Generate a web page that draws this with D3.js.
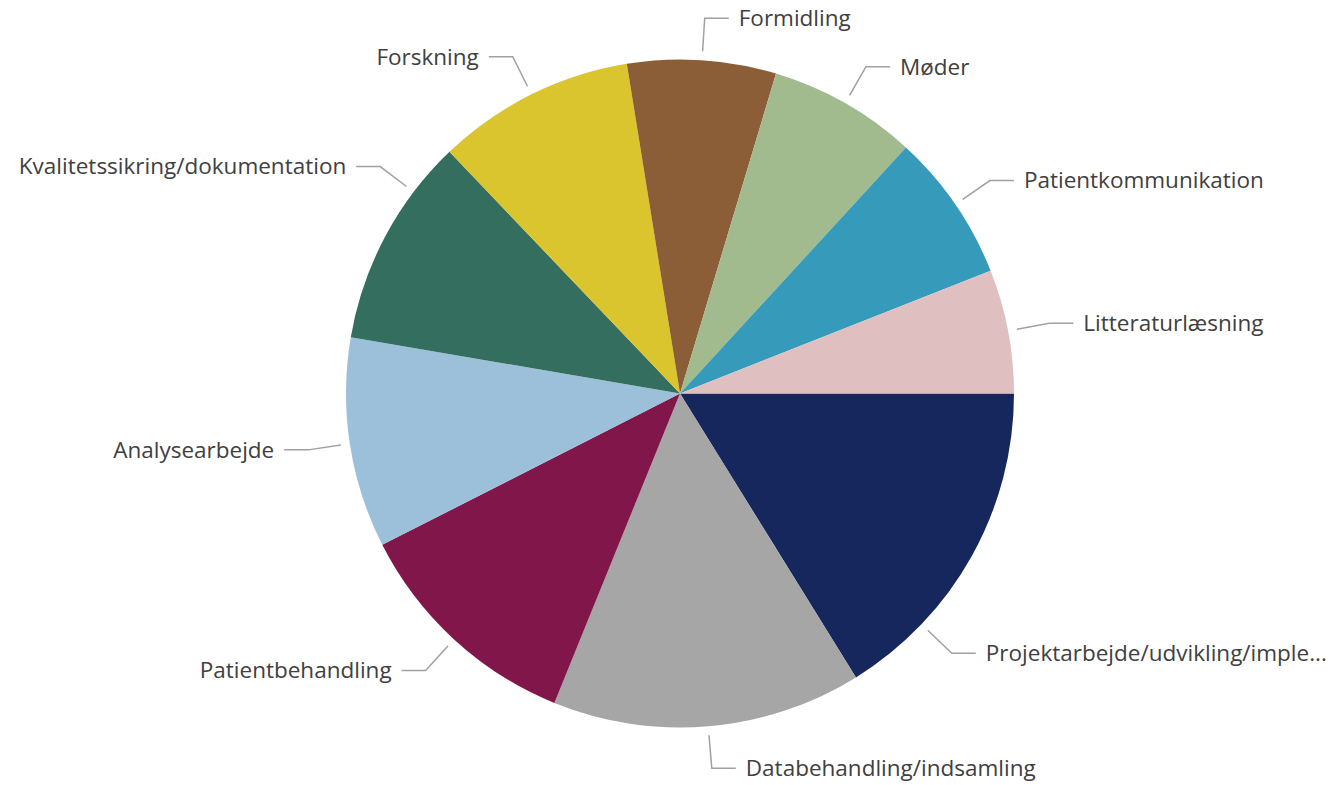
<!DOCTYPE html>
<html>
<head>
<meta charset="utf-8">
<script src="https://cdn.jsdelivr.net/npm/d3@7"></script>
<style>
  body { margin: 0; background: #fff; }
  svg { display: block; }
</style>
</head>
<body>
<script>
// data
const categories = [
  "Projektarbejde/udvikling/implementering",
  "Databehandling/indsamling",
  "Patientbehandling",
  "Analysearbejde",
  "Kvalitetssikring/dokumentation",
  "Forskning",
  "Formidling",
  "Møder",
  "Patientkommunikation",
  "Litteraturlæsning"
]
const values = [27, 25, 19, 17, 17, 16, 12, 12, 12, 10]
const colors = ["#15275C", "#A6A6A6", "#81164A", "#9DC0DA", "#336E5F",
                "#DAC52F", "#8B5E37", "#A1BA8E", "#369BBA", "#E0BFC1"]

// label angle nudges (degrees), the way the original moved two labels
const labelNudge = { 0: 14.6, 4: 9.1 }

const width = 1330, height = 785
const cx = 680, cy = 393.5, r = 334

const svg = d3.select("body")
    .append("svg")
    .attr("width", width)
    .attr("height", height)

const g = svg.append("g")
    .attr("transform", `translate(${cx},${cy})`)

const pie = d3.pie()
    .sort(null)
    .value(i => values[i])
    .startAngle(Math.PI / 2)
    .endAngle(Math.PI / 2 + 2 * Math.PI)

const arc = d3.arc().innerRadius(0).outerRadius(r)

const arcs = pie(d3.range(values.length))

g.selectAll("path.slice")
    .data(arcs)
    .enter()
    .append("path")
    .attr("class", "slice")
    .attr("d", arc)
    .attr("fill", d => colors[d.data])

// leader lines + labels
const pt = (a, rad) => [rad * Math.sin(a), -rad * Math.cos(a)]

arcs.forEach(d => {
    const i = d.data
    const a = (d.startAngle + d.endAngle) / 2 + (labelNudge[i] || 0) * Math.PI / 180
    const p0 = pt(a, r + 9)
    const p1 = pt(a, r + 42)
    const right = p1[0] > 0
    const p2 = [p1[0] + (right ? 24 : -24), p1[1]]

    g.append("polyline")
        .attr("points", [p0, p1, p2].map(p => p.join(",")).join(" "))
        .attr("fill", "none")
        .attr("stroke", "#a0a0a0")
        .attr("stroke-width", 1.5)

    const tx = p2[0] + (right ? 10 : -10)
    const t = g.append("text")
        .attr("x", tx)
        .attr("y", p1[1])
        .attr("dy", "0.35em")
        .attr("text-anchor", right ? "start" : "end")
        .attr("fill", "#404040")
        .style("font-family", "'Segoe UI', 'Open Sans', sans-serif")
        .style("font-size", "22.5px")
        .text(categories[i])

    // truncate like the original when the label runs past the edge
    const avail = right ? (width - (cx + tx) - 2) : (cx + tx - 2)
    let s = categories[i]
    if (t.node().getComputedTextLength() > avail) {
        while (s.length > 1) {
            s = s.slice(0, -1)
            t.text(s + "...")
            if (t.node().getComputedTextLength() <= avail) break
        }
    }
})
</script>
</body>
</html>
